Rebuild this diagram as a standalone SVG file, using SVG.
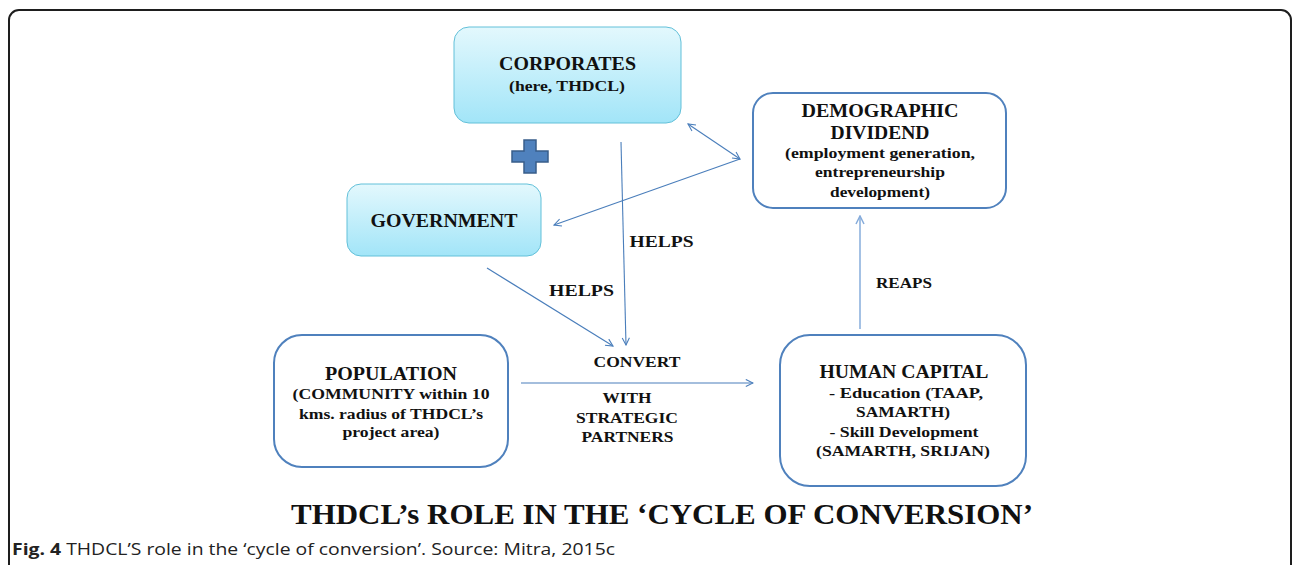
<svg xmlns="http://www.w3.org/2000/svg" width="1292" height="565" viewBox="0 0 1292 565">
<style>
.t{font-family:"Liberation Serif","Times New Roman",serif;font-weight:bold;fill:#111;text-anchor:middle}
.big{font-size:19px}
.mid{font-size:17px}
.sm{font-size:15px}
.box{fill:#fff;stroke:#4f81bd;stroke-width:2}
.cyan{fill:url(#cg);stroke:#62c0d9;stroke-width:1}
.con{fill:none;stroke:#4a7ebb;stroke-width:1.1}
</style>
<defs>
<linearGradient id="cg" x1="0" y1="0" x2="0" y2="1">
<stop offset="0" stop-color="#e3f8fd"/>
<stop offset="1" stop-color="#a2e5f8"/>
</linearGradient>
<marker id="ah" viewBox="0 0 10 10" refX="9" refY="5" markerWidth="9" markerHeight="9" markerUnits="userSpaceOnUse" orient="auto-start-reverse">
<path d="M1,1 L9,5 L1,9" fill="none" stroke="#4a7ebb" stroke-width="1.2"/>
</marker>
<marker id="ah2" viewBox="0 0 10 10" refX="9" refY="5" markerWidth="10" markerHeight="10" markerUnits="userSpaceOnUse" orient="auto">
<path d="M1,1 L9,5 L1,9" fill="none" stroke="#86acdb" stroke-width="1.5"/>
</marker>
</defs>
<rect width="1292" height="565" fill="#fff"/>
<rect x="9" y="10" width="1282" height="600" rx="10" fill="none" stroke="#1e1e1e" stroke-width="2"/>

<g id="corporates">
<rect class="cyan" x="454" y="27" width="227" height="96" rx="15"/>
<text class="t big" x="567.5" y="70" textLength="137" lengthAdjust="spacingAndGlyphs">CORPORATES</text>
<text class="t sm" x="567" y="91" textLength="116" lengthAdjust="spacingAndGlyphs">(here, THDCL)</text>
</g>

<g id="plus">
<path d="M524,140 H536 V151 H548 V162 H536 V173 H524 V162 H512 V151 H524 Z" fill="#4f81bd" stroke="#385d8a" stroke-width="1.5"/>
</g>

<g id="government">
<rect class="cyan" x="347" y="184" width="194" height="72" rx="14"/>
<text class="t big" x="444" y="227" textLength="147" lengthAdjust="spacingAndGlyphs">GOVERNMENT</text>
</g>

<g id="demographic">
<rect class="box" x="753" y="93" width="253" height="115" rx="20"/>
<text class="t big" x="880" y="117" textLength="157" lengthAdjust="spacingAndGlyphs">DEMOGRAPHIC</text>
<text class="t big" x="880" y="139" textLength="99" lengthAdjust="spacingAndGlyphs">DIVIDEND</text>
<text class="t sm" x="880" y="158" textLength="190" lengthAdjust="spacingAndGlyphs">(employment generation,</text>
<text class="t sm" x="880" y="177" textLength="130" lengthAdjust="spacingAndGlyphs">entrepreneurship</text>
<text class="t sm" x="880" y="197" textLength="100" lengthAdjust="spacingAndGlyphs">development)</text>
</g>

<g id="population">
<rect class="box" x="274" y="335" width="234" height="132" rx="28"/>
<text class="t big" x="391" y="380" textLength="132" lengthAdjust="spacingAndGlyphs">POPULATION</text>
<text class="t sm" x="391" y="399" textLength="197" lengthAdjust="spacingAndGlyphs">(COMMUNITY within 10</text>
<text class="t sm" x="391" y="419" textLength="184" lengthAdjust="spacingAndGlyphs">kms. radius of THDCL’s</text>
<text class="t sm" x="391" y="437" textLength="97" lengthAdjust="spacingAndGlyphs">project area)</text>
</g>

<g id="human-capital">
<rect class="box" x="780" y="335" width="246" height="151" rx="30"/>
<text class="t big" x="904" y="378" textLength="169" lengthAdjust="spacingAndGlyphs">HUMAN CAPITAL</text>
<text class="t sm" x="906" y="398" textLength="154" lengthAdjust="spacingAndGlyphs">- Education (TAAP,</text>
<text class="t sm" x="903" y="417" textLength="94" lengthAdjust="spacingAndGlyphs">SAMARTH)</text>
<text class="t sm" x="904" y="437" textLength="149" lengthAdjust="spacingAndGlyphs">- Skill Development</text>
<text class="t sm" x="903" y="456" textLength="174" lengthAdjust="spacingAndGlyphs">(SAMARTH, SRIJAN)</text>
</g>

<g id="connectors">
<line class="con" x1="688" y1="124" x2="740" y2="159" marker-start="url(#ah)" marker-end="url(#ah)"/>
<line class="con" x1="740" y1="159" x2="554" y2="225" marker-end="url(#ah)"/>
<line class="con" x1="621" y1="142" x2="626" y2="345" marker-end="url(#ah)"/>
<line class="con" x1="487" y1="268" x2="613" y2="346" marker-end="url(#ah)"/>
<line class="con" x1="521" y1="383" x2="753" y2="383" marker-end="url(#ah)"/>
<line x1="860" y1="329" x2="860" y2="216" stroke="#86acdb" stroke-width="1.5" marker-end="url(#ah2)"/>
<text class="t mid" x="661.5" y="247" textLength="64" lengthAdjust="spacingAndGlyphs">HELPS</text>
<text class="t mid" x="581.5" y="296" textLength="65" lengthAdjust="spacingAndGlyphs">HELPS</text>
<text class="t sm" x="637" y="367" textLength="87" lengthAdjust="spacingAndGlyphs">CONVERT</text>
<text class="t sm" x="627" y="403" textLength="49" lengthAdjust="spacingAndGlyphs">WITH</text>
<text class="t sm" x="627" y="423" textLength="102" lengthAdjust="spacingAndGlyphs">STRATEGIC</text>
<text class="t sm" x="627.5" y="442" textLength="92" lengthAdjust="spacingAndGlyphs">PARTNERS</text>
<text class="t sm" x="904" y="288" textLength="56" lengthAdjust="spacingAndGlyphs">REAPS</text>
</g>

<g id="title">
<text class="t" x="662" y="524" font-size="30" textLength="742" lengthAdjust="spacingAndGlyphs">THDCL’s ROLE IN THE ‘CYCLE OF CONVERSION’</text>
</g>
<g id="caption">
<text x="12" y="555" font-family="'Open Sans','Liberation Sans',sans-serif" font-size="15.5" fill="#222" textLength="603" lengthAdjust="spacingAndGlyphs"><tspan font-weight="bold">Fig. 4</tspan> THDCL’S role in the ‘cycle of conversion’. Source: Mitra, 2015c</text>
</g>
</svg>
